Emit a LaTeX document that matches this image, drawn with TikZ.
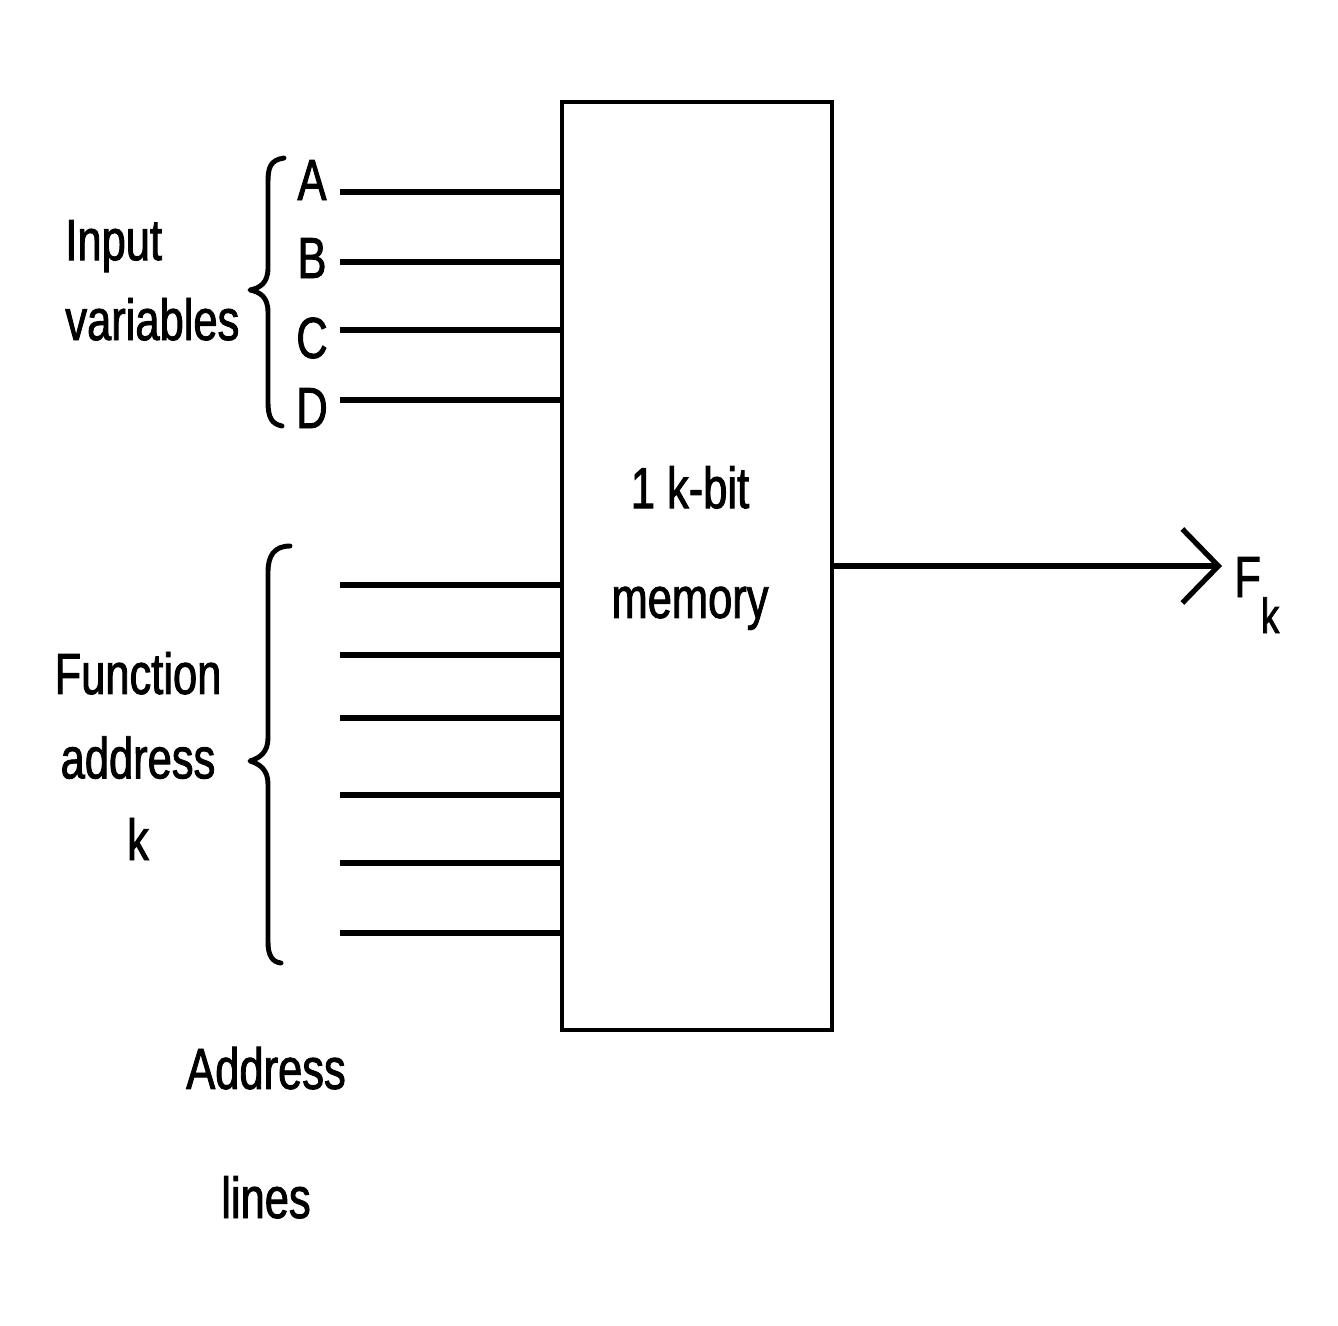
\documentclass[tikz,border=0pt]{standalone}
\usepackage{fontspec}
\setmainfont[FakeStretch=0.75, FakeBold=1.5]{Liberation Sans}
\usetikzlibrary{arrows.meta}
\begin{document}
\begin{tikzpicture}[x=0.02cm,y=-0.02cm,
  lbl/.style={font=\fontsize{33}{45.5}\selectfont, inner sep=0pt},
  wire/.style={line width=3pt},
  bracepath/.style={line width=2.8pt, line cap=round, line join=round},
  membox/.style={draw, line width=2.5pt, minimum width=5.4cm, minimum height=18.56cm, inner sep=0pt}]
\useasboundingbox (0,0) rectangle (1338,1325);
\node[membox] (mem) at (697,566) {};
\node[lbl, align=center] (memlabel) at (690,548) {1 k-bit\\[17pt]memory};
% input letters
\node[lbl, anchor=base] (A) at (312,200) {A};
\node[lbl, anchor=base] (B) at (312,278) {B};
\node[lbl, anchor=base] (C) at (312,358) {C};
\node[lbl, anchor=base] (D) at (312,428) {D};
\coordinate (a1) at (340,192);
\coordinate (b1) at (340,262);
\coordinate (c1) at (340,330);
\coordinate (d1) at (340,400);
\foreach \p in {a1,b1,c1,d1} \draw[wire] (\p) -- (\p -| mem.west);
% address lines
\coordinate (f1) at (340,585);
\coordinate (f2) at (340,655);
\coordinate (f3) at (340,718);
\coordinate (f4) at (340,795);
\coordinate (f5) at (340,863);
\coordinate (f6) at (340,933);
\foreach \p in {f1,f2,f3,f4,f5,f6} \draw[wire] (\p) -- (\p -| mem.west);
% braces
\draw[bracepath] (284,158) .. controls (270,160) and (268,168) .. (268,182) -- (268,268)
  .. controls (268,283) and (260,288) .. (250,290) .. controls (260,292) and (268,297) .. (268,312)
  -- (268,402) .. controls (268,418) and (272,424) .. (282,426);
\draw[bracepath] (290,546) .. controls (274,546) and (268,556) .. (268,572) -- (268,738)
  .. controls (268,752) and (260,758) .. (250,761) .. controls (260,764) and (268,770) .. (268,784)
  -- (268,942) .. controls (268,955) and (272,962) .. (281,963);
% labels (base anchor = baseline of last line)
\node[lbl, align=left, anchor=base west] (inlabel) at (65,340) {Input\\variables};
\node[lbl, align=center, anchor=base] (fnlabel) at (138,860) {Function\\[2.5pt]address\\[1pt]k};
\node[lbl, align=center, anchor=base] (adlabel) at (266,1218) {Address\\[28pt]lines};
% output
\coordinate (out) at (1222,566);
\draw[line width=3pt, -{Straight Barb[length=0.72cm, width=1.48cm, line width=3pt]}] (mem.east) -- (out);
\node[lbl, anchor=base west] (Fk) at (1234,597) {F\raisebox{-0.72cm}{\fontsize{28}{30}\selectfont k}};
\end{tikzpicture}
\end{document}
